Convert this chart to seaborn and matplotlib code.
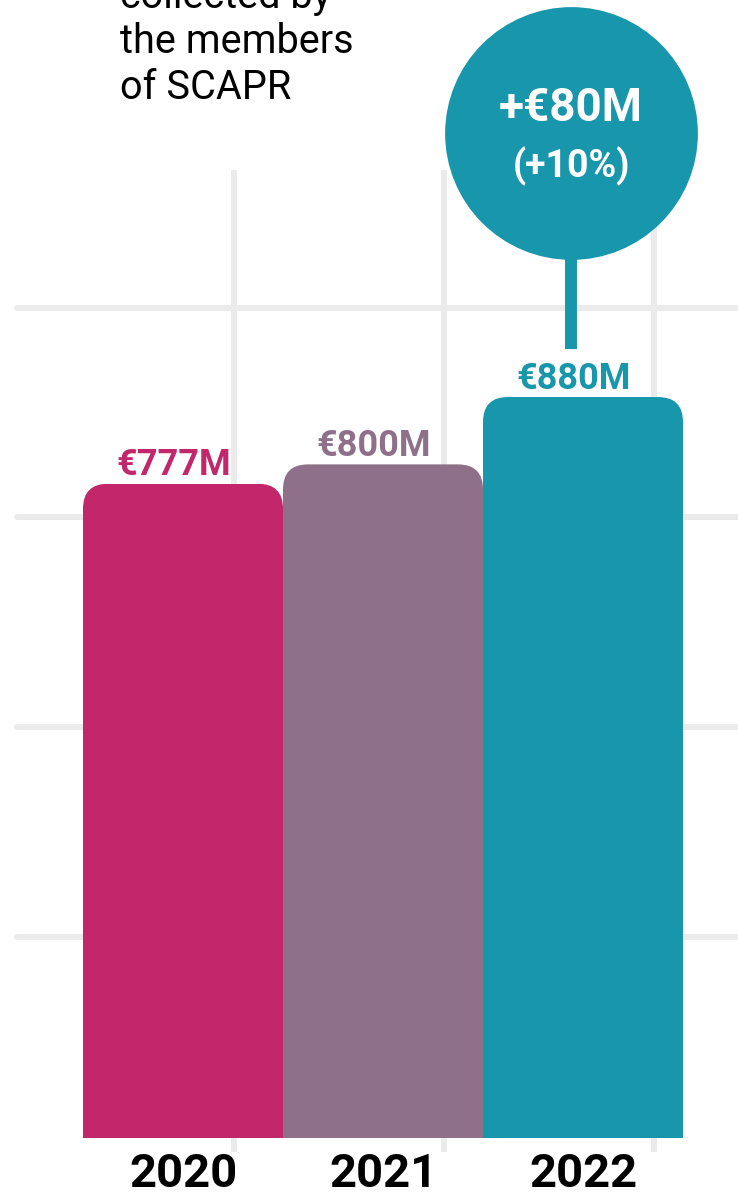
import matplotlib
matplotlib.use("Agg")
import matplotlib.pyplot as plt
import seaborn as sns
import pandas as pd
from matplotlib.patches import FancyBboxPatch

# ── Data ───────────────────────────────────────────────────────
YEARS = ["2020", "2021", "2022"]
VALUES = [777, 800, 880]
COLORS = ["#C2266B", "#8F7089", "#1896AB"]
TITLE_LINES = ["collected by", "the members", "of SCAPR"]

# decorative grid (data units)
HGRID_Y = [239, 488, 738, 986]
VGRID_X = [0.255, 1.305, 2.355]
GRID_TOP = 1150

XLIM = (-0.915, 2.775)
YLIM = (-16.6, 1351.5)
FIG_W, FIG_H = 738, 1195
AX_BOTTOM_PX = 43

sns.set_style("white")
plt.rcParams["font.family"] = ["Roboto", "DejaVu Sans"]

df = pd.DataFrame({"year": YEARS, "value": VALUES})

fig = plt.figure(figsize=(FIG_W / 100, FIG_H / 100), dpi=100)
ax = fig.add_axes([0, AX_BOTTOM_PX / FIG_H, 1, 1 - AX_BOTTOM_PX / FIG_H])
sns.barplot(data=df, x="year", y="value", hue="year", palette=COLORS,
            width=1, saturation=1, legend=False, ax=ax, zorder=3)

ax.set_xlim(*XLIM)
ax.set_ylim(*YLIM)
for s in ax.spines.values():
    s.set_visible(False)
ax.set_yticks([])
ax.set_xlabel("")
ax.set_ylabel("")
ax.tick_params(axis="x", length=0, pad=0, labelsize=34, labelcolor="black")
for lab in ax.get_xticklabels():
    lab.set_fontweight("bold")

# grid
grid_c = "#EBEBEB"
for y in HGRID_Y:
    ax.axhline(y, xmin=17 / FIG_W, xmax=1, color=grid_c, lw=4.3, zorder=1)
ax.vlines(VGRID_X, YLIM[0], GRID_TOP, color=grid_c, lw=4.3, zorder=1)

# rounded tops on bars
ax_w_px = FIG_W
ax_h_px = FIG_H - AX_BOTTOM_PX
px_x = ax_w_px / (XLIM[1] - XLIM[0])
px_y = ax_h_px / (YLIM[1] - YLIM[0])
aspect = px_x / px_y
rx = 25 / px_x
ry = rx * aspect
for bar in list(ax.patches):
    x0, w, h = bar.get_x(), bar.get_width(), bar.get_height()
    rounded = FancyBboxPatch((x0, -ry), w, h + ry,
                             boxstyle=f"round,pad=0,rounding_size={rx}",
                             mutation_aspect=aspect,
                             facecolor=bar.get_facecolor(), edgecolor="none", zorder=3)
    ax.add_patch(rounded)
    rounded.set_clip_path(bar)
    bar.set_visible(False)

# value labels
for i, (v, c) in enumerate(zip(VALUES, COLORS)):
    ax.annotate(f"€{v}M", (i, v), xytext=(-7, 6), textcoords="offset points",
                ha="center", va="baseline", color=c, fontsize=26, fontweight="bold")

# growth bubble
diff = VALUES[-1] - VALUES[-2]
pct = round(diff / VALUES[-2] * 100)
bx = 1.94
by = (1138 - 133) / px_y
stem_top = (1138 - 259) / px_y
stem_bot = (1138 - 349) / px_y
ax.plot([bx, bx], [stem_bot, stem_top], color=COLORS[-1], lw=8.6,
        solid_capstyle="butt", zorder=4)
ax.scatter([bx], [by], s=182 ** 2, color=COLORS[-1], linewidths=0, zorder=5)
ax.annotate(f"+€{diff}M", (bx, by), xytext=(0, 8.6), textcoords="offset points",
            ha="center", va="baseline", color="white", fontsize=33,
            fontweight="bold", zorder=6)
ax.annotate(f"(+{pct}%)", (bx, by), xytext=(0, -32), textcoords="offset points",
            ha="center", va="baseline", color="white", fontsize=27,
            fontweight="bold", zorder=6)

# title (cut off at the top like the source)
for line, py in zip(TITLE_LINES, [8, 53, 99]):
    fig.text(120 / FIG_W, 1 - py / FIG_H, line, ha="left", va="baseline",
             fontsize=28.5, color="black")

fig.savefig("out.png", dpi=100)
